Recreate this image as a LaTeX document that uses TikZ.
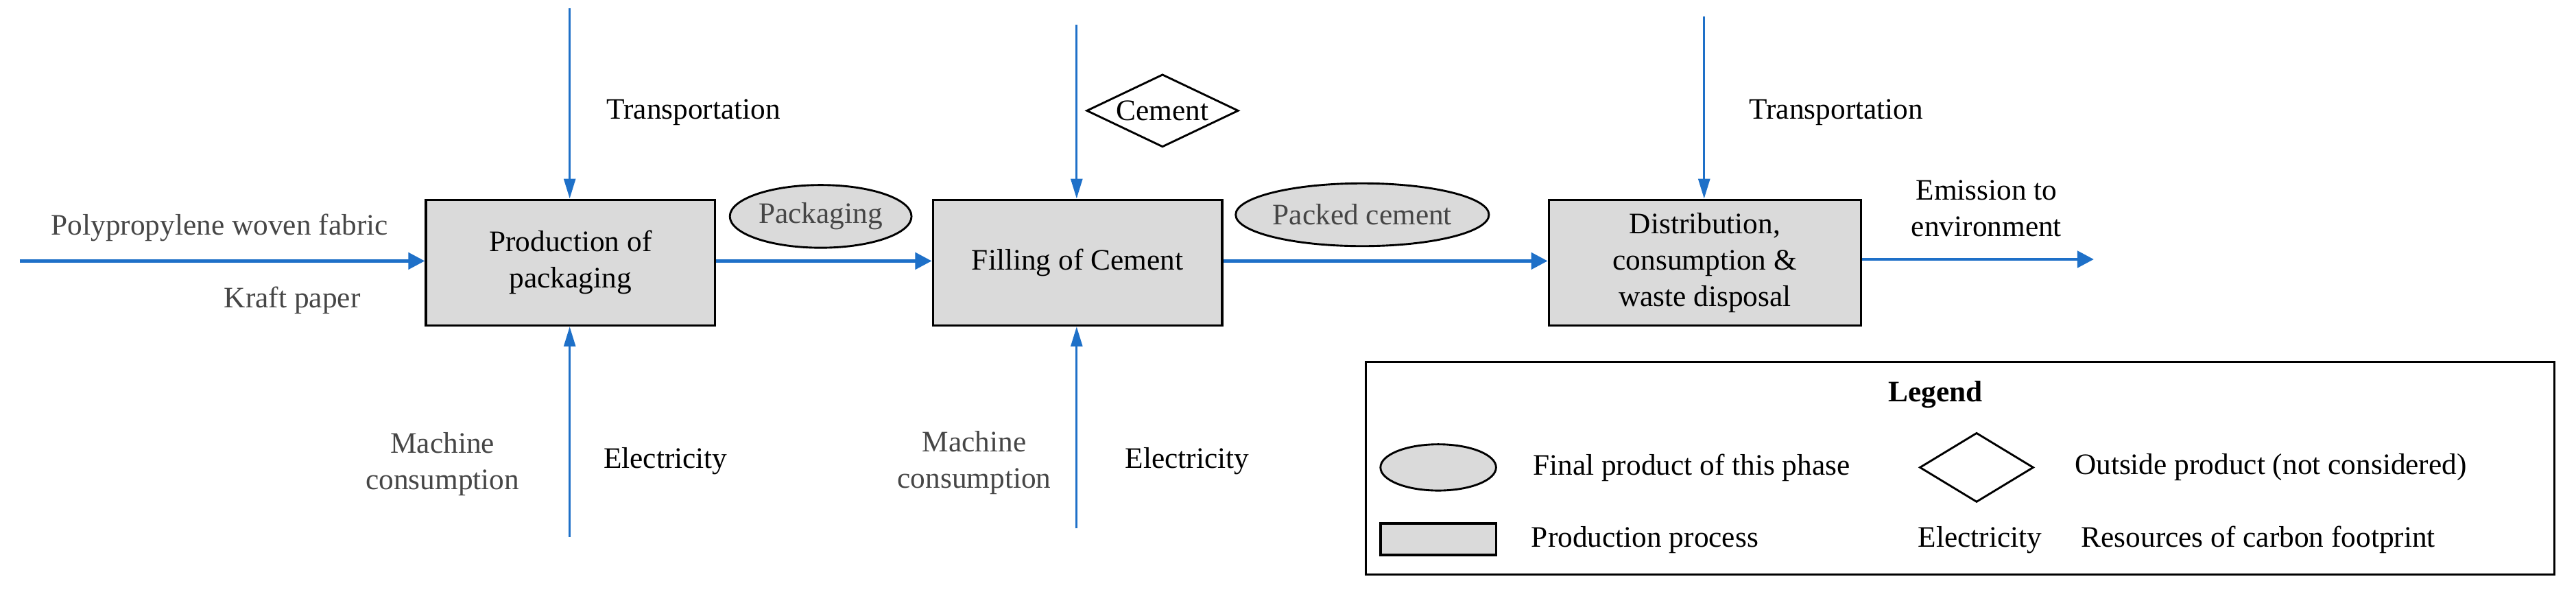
\documentclass[tikz,border=0pt]{standalone}
\usepackage{fontspec}
\setmainfont{Liberation Serif}
\usetikzlibrary{shapes.geometric,arrows.meta}
\definecolor{flow}{RGB}{30,112,200}
\definecolor{boxfill}{RGB}{218,218,218}
\definecolor{txtgray}{RGB}{70,70,70}
\begin{document}
\begin{tikzpicture}[x=0.5pt,y=-0.5pt,font=\fontsize{9}{11}\selectfont,
  proc/.style={draw,line width=0.75pt,fill=boxfill,align=center,inner sep=0pt},
  prod/.style={draw,ellipse,line width=0.6pt,fill=boxfill,inner sep=0pt,text=txtgray},
  outp/.style={draw,diamond,line width=0.6pt,inner sep=0pt,aspect=2.1},
  lab/.style={align=center,inner sep=0pt},
  glab/.style={lab,text=txtgray},
  main/.style={flow,line width=1pt,-{Triangle[length=5pt,width=5pt]}},
  side/.style={flow,line width=0.65pt,-{Triangle[length=6pt,width=3.5pt]}}]
\useasboundingbox (0,0) rectangle (1560,365);
% process boxes
\node[proc,minimum width=87.5pt,minimum height=38pt] (p1) at (345.5,159) {Production of\\packaging};
\node[proc,minimum width=87.5pt,minimum height=38pt] (p2) at (652.5,159) {Filling of Cement};
\node[proc,minimum width=94.5pt,minimum height=38pt] (p3) at (1032.5,159) {Distribution,\\consumption \&\\waste disposal};
% products
\node[prod,minimum width=55pt,minimum height=19pt] (e1) at (497,131) {Packaging};
\node[prod,minimum width=72pt,minimum height=19pt] (e2) at (825,130) {Packed cement};
\node[outp,minimum width=46pt,minimum height=22pt] (d1) at (704,67) {Cement};
% coordinates
\coordinate (in1) at (12,158);
\coordinate (t1) at (345,5);
\coordinate (c1) at (652,15);
\coordinate (t3) at (1032,10);
\coordinate (b1) at (345,325);
\coordinate (b2) at (652,320);
\coordinate (out) at (1268,157);
% arrows
\draw[main] (in1) -- (p1.west |- in1);
\draw[main] (p1.east |- 0,158) -- (p2.west |- 0,158);
\draw[main] (p2.east |- 0,158) -- (p3.west |- 0,158);
\draw[main] (p3.east |- out) -- (out);
\draw[side] (t1) -- (p1.north -| t1);
\draw[side] (c1) -- (p2.north -| c1);
\draw[side] (t3) -- (p3.north -| t3);
\draw[side] (b1) -- (p1.south -| b1);
\draw[side] (b2) -- (p2.south -| b2);
% labels
\node[glab] (l1) at (133,138) {Polypropylene woven fabric};
\node[glab] (l2) at (177,182) {Kraft paper};
\node[lab] (l3) at (420,68) {Transportation};
\node[lab] (l4) at (1112,68) {Transportation};
\node[lab] (l5) at (1203,126) {Emission to\\environment};
\node[lab] (l6) at (403,279) {Electricity};
\node[lab] (l7) at (719,279) {Electricity};
\node[glab] (l8) at (268,281) {Machine\\consumption};
\node[glab] (l9) at (590,280) {Machine\\consumption};
% legend
\node[draw,line width=0.6pt,minimum width=360pt,minimum height=64.5pt,inner sep=0pt] (leg) at (1187,283.5) {};
\node[lab,font=\fontsize{9}{11}\selectfont\bfseries] (lt) at (1172,239) {Legend};
\node[prod,minimum width=35pt,minimum height=14pt] (le) at (871,283) {};
\node[lab,anchor=west] (lte) at (928,283) {Final product of this phase};
\node[outp,aspect=1.65,minimum width=34.5pt,minimum height=21pt] (ld) at (1197,283) {};
\node[lab,anchor=west] (ltd) at (1256,283) {Outside product (not considered)};
\node[proc,minimum width=35pt,minimum height=9.5pt] (lr) at (871,326.5) {};
\node[lab,anchor=west] (ltr) at (927,327) {Production process};
\node[lab] (lel) at (1199,327) {Electricity};
\node[lab,anchor=west] (ltel) at (1260,327) {Resources of carbon footprint};
\end{tikzpicture}
\end{document}
